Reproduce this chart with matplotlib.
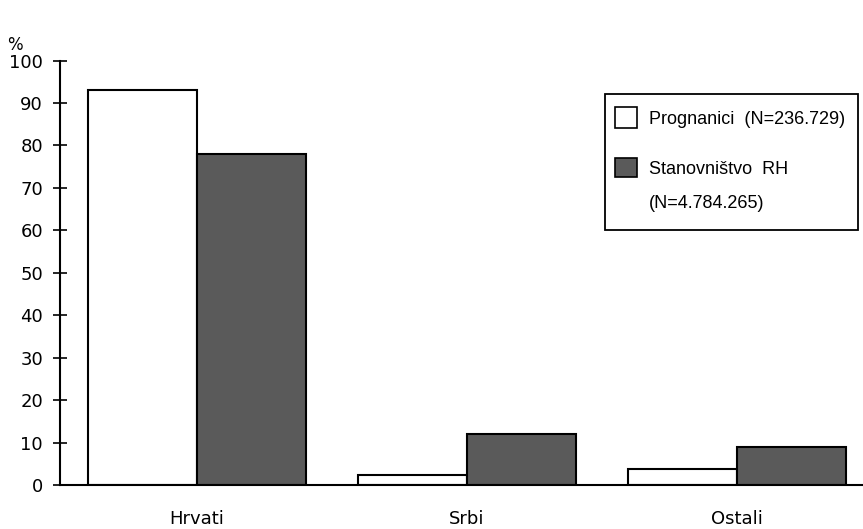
import matplotlib
matplotlib.use("Agg")
import matplotlib.pyplot as plt
from matplotlib.patches import Rectangle
import numpy as np

categories = ["Hrvati", "Srbi", "Ostali"]
prognanici = [93.0, 2.4, 3.7]
stanovnistvo = [78.0, 11.9, 9.0]
series_labels = ["Prognanici  (N=236.729)", "Stanovništvo  RH", "(N=4.784.265)"]
yticks = [0, 10, 20, 30, 40, 50, 60, 70, 80, 90, 100]

W, H = 863, 529
fig = plt.figure(figsize=(W / 100, H / 100), dpi=100)
ax = fig.add_axes([60 / W, (H - 485) / H, 1 - 60 / W, (485 - 60.5) / H])

dark = "#5a5a5a"
x = np.arange(len(categories))
bw = 0.404
ax.bar(x - bw / 2, prognanici, width=bw, facecolor="white", edgecolor="black", linewidth=1.5)
ax.bar(x + bw / 2, stanovnistvo, width=bw, facecolor=dark, edgecolor="black", linewidth=1.5)

ax.set_xlim(-0.507, 2.467)
ax.set_ylim(0, 100)
ax.set_yticks(yticks)
ax.set_xticks(x)
ax.set_xticklabels(categories)

tick_font = "DejaVu Sans"
for sp in ["top", "right"]:
    ax.spines[sp].set_visible(False)
for sp in ["left", "bottom"]:
    ax.spines[sp].set_linewidth(1.5)
ax.tick_params(axis="y", direction="inout", length=10.5, width=1.2, pad=7, labelsize=13)
ax.tick_params(axis="x", length=0, pad=18, labelsize=13)
for lab in ax.get_xticklabels() + ax.get_yticklabels():
    lab.set_family(tick_font)

fig.text(15 / W, 1 - 45 / H, "%", fontsize=12, family=tick_font, ha="center", va="center")

# legend box drawn manually
def fx(px):
    return px / W

def fy(py):
    return 1 - py / H

fig.patches.append(Rectangle((fx(605), fy(230)), fx(858) - fx(605), fy(94) - fy(230),
                             transform=fig.transFigure, facecolor="white", edgecolor="black",
                             linewidth=1.3, zorder=5))
fig.patches.append(Rectangle((fx(615), fy(128)), fx(637) - fx(615), fy(107) - fy(128),
                             transform=fig.transFigure, facecolor="white", edgecolor="black",
                             linewidth=1.2, zorder=6))
fig.patches.append(Rectangle((fx(615), fy(177)), fx(637) - fx(615), fy(158) - fy(177),
                             transform=fig.transFigure, facecolor=dark, edgecolor="black",
                             linewidth=1.2, zorder=6))
leg_font = "Liberation Sans"
fig.text(fx(649), fy(119), series_labels[0], fontsize=13, family=leg_font, va="center", ha="left", zorder=7)
fig.text(fx(649), fy(170), series_labels[1], fontsize=13, family=leg_font, va="center", ha="left", zorder=7)
fig.text(fx(649), fy(203), series_labels[2], fontsize=13, family=leg_font, va="center", ha="left", zorder=7)

fig.savefig("out.png", dpi=100)
